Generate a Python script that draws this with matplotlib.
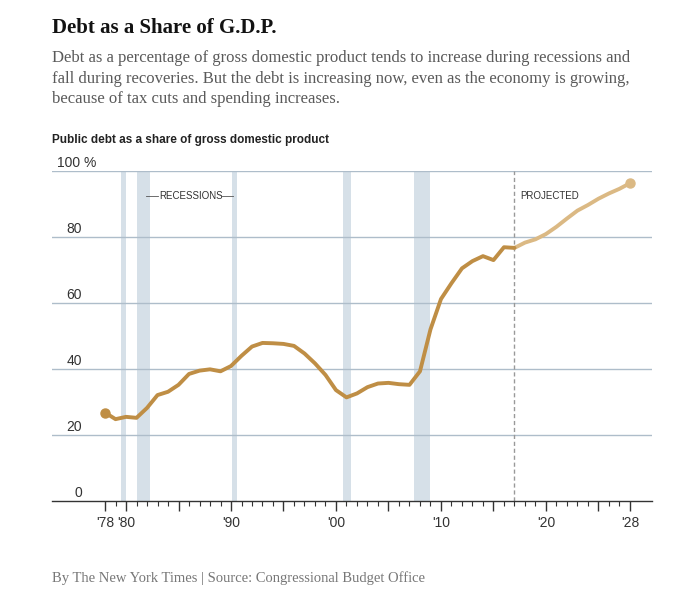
import matplotlib.pyplot as plt
import numpy as np

# Public debt as a share of GDP, fiscal years
hist_years = list(range(1978, 2018))
hist_debt = [26.8, 24.8, 25.5, 25.2, 28.2, 32.1, 33.1, 35.2, 38.5, 39.5,
             39.9, 39.3, 40.9, 44.0, 46.8, 47.9, 47.8, 47.6, 47.0, 44.7,
             41.7, 38.2, 33.6, 31.4, 32.6, 34.5, 35.6, 35.8, 35.4, 35.2,
             39.3, 52.0, 61.2, 66.0, 70.5, 72.7, 74.2, 73.0, 76.9, 76.7]
proj_years = list(range(2017, 2029))
proj_debt = [76.7, 78.3, 79.3, 80.9, 83.1, 85.6, 88.0, 89.7, 91.6, 93.2, 94.6, 96.3]

recessions = [(1979.5, 1980.0), (1981.0, 1982.3), (1990.1, 1990.6),
              (2000.65, 2001.4), (2007.45, 2008.95)]
projected_start = 2017

yticks = [0, 20, 40, 60, 80, 100]
xlabels = {1978: "'78", 1980: "'80", 1990: "'90", 2000: "'00",
           2010: "'10", 2020: "'20", 2028: "'28"}

hist_color = '#bf8e45'
proj_color = '#dbb984'
grid_color = '#aebdca'
band_color = '#d6e0e8'

fig = plt.figure(figsize=(6.99, 6.04), dpi=100)
ax = fig.add_axes([52 / 699, 103 / 604, 600 / 699, 330 / 604])

for start, end in recessions:
    ax.axvspan(start, end, color=band_color, lw=0, zorder=0)

for v in yticks[1:]:
    ax.axhline(v, color=grid_color, lw=1, zorder=1)

ax.axvline(projected_start, color='#999999', lw=1, ls=(0, (3, 2)), zorder=2)

ax.plot(proj_years, proj_debt, color=proj_color, lw=2.8, zorder=3,
        solid_capstyle='round', solid_joinstyle='round')
ax.plot(hist_years, hist_debt, color=hist_color, lw=2.8, zorder=4,
        solid_capstyle='round', solid_joinstyle='round')
ax.plot(hist_years[0], hist_debt[0], 'o', color=hist_color, ms=6.5, zorder=5)
ax.plot(proj_years[-1], proj_debt[-1], 'o', color=proj_color, ms=6.5, zorder=5)

ax.set_xlim(1972.95, 2030.1)
ax.set_ylim(0, 100)

for s in ['top', 'right', 'left']:
    ax.spines[s].set_visible(False)
ax.spines['bottom'].set_color('#333333')
ax.spines['bottom'].set_linewidth(1)
ax.spines['bottom'].set_zorder(6)

major = sorted(set(list(xlabels.keys()) + list(range(1980, 2029, 5))))
ax.set_xticks(major)
ax.set_xticklabels([xlabels.get(y, '') for y in major], fontsize=10,
                   color='#333333', family='Liberation Sans')
ax.set_xticks(range(1978, 2029), minor=True)
ax.tick_params(axis='x', which='major', length=7, width=1, color='#333333', pad=4)
ax.tick_params(axis='x', which='minor', length=3.5, width=0.8, color='#333333')
ax.set_yticks([])

for v in yticks:
    if v == 100:
        ax.text(1973.4, v + 0.2, '100 %', ha='left', va='bottom', fontsize=10,
                color='#333333', family='Liberation Sans')
    else:
        ax.text(1975.8, v + 0.2, str(v), ha='right', va='bottom', fontsize=10,
                color='#333333', family='Liberation Sans')

ax.text(1983.15, 92.5, 'RECESSIONS', fontsize=7, color='#333333',
        va='center', ha='left', family='Liberation Sans')
ax.plot([1981.9, 1983.05], [92.5, 92.5], color='#555555', lw=0.6)
ax.plot([1989.15, 1990.2], [92.5, 92.5], color='#555555', lw=0.6)
ax.text(projected_start + 0.55, 92.5, 'PROJECTED', fontsize=7, color='#333333',
        va='center', ha='left', family='Liberation Sans')

fig.text(52 / 699, 1 - 28 / 604, 'Debt as a Share of G.D.P.', fontsize=15,
         fontweight='bold', family='Liberation Serif', va='center', color='#121212')
subtitle = ('Debt as a percentage of gross domestic product tends to increase during recessions and\n'
            'fall during recoveries. But the debt is increasing now, even as the economy is growing,\n'
            'because of tax cuts and spending increases.')
fig.text(52 / 699, 1 - 50 / 604, subtitle, fontsize=12, family='Liberation Serif',
         va='top', color='#5a5a5a', linespacing=1.38)
fig.text(52 / 699, 1 - 140 / 604, 'Public debt as a share of gross domestic product',
         fontsize=8.5, fontweight='bold', family='Liberation Sans',
         va='center', color='#222222')
fig.text(52 / 699, 1 - 578 / 604, 'By The New York Times | Source: Congressional Budget Office',
         fontsize=10.5, family='Liberation Serif', va='center', color='#777777')

fig.savefig('out.png', dpi=100)
